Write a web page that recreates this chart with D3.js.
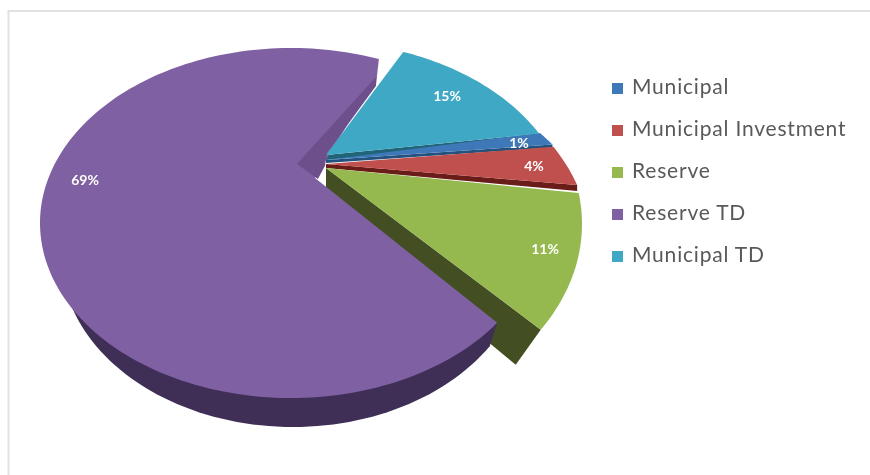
<!DOCTYPE html>
<html><head><meta charset="utf-8">
<script src="https://cdn.jsdelivr.net/npm/d3@7/dist/d3.min.js"></script>
<style>html,body{margin:0;padding:0;background:#fff}svg{display:block;filter:blur(.7px)}</style>
</head><body><svg id="c" width="870" height="475"></svg>
<script>
const categories = ["Municipal","Municipal Investment","Reserve","Reserve TD","Municipal TD"];
const shares = [1,4,11,69,15];
const faceColors = ["#3f78b8","#c0504d","#96b94f","#7f60a2","#3fa8c4"];
const wallColors = ["#24527f","#6a1c18","#434f22","#3f2f56","#1f6478"];

// one frame per slice: exploded offset and the perspective ellipse its rim lies on
const frames = [
 {cx:215,cy:312,rx:414,ry:289,rot:-17.4,persp:1,ax:326,ay:160,dx:0,dy:3,adx:0,ady:3},
 {cx:306,cy:244,rx:284,ry:198,rot:-10,persp:1,ax:326,ay:164,dx:0,dy:6,adx:0,ady:4},
 {cx:285,cy:224,rx:297,ry:208,rot:0,persp:1,ax:326,ay:168,dx:-25,dy:35,adx:0,ady:40},
 {cx:291,cy:223,rx:251,ry:175,rot:-4,persp:.47,ax:315,ay:178,dx:-3,dy:27,adx:-18,ady:-15},
 {cx:318,cy:216.5,rx:251,ry:175,rot:-5,persp:1,ax:326,ay:155,dx:1,dy:4,adx:0,ady:5}
];
const labelPos = [[519,144],[534,167],[545,250],[85,181],[447,97]];
const legendY = d3.scalePoint().domain(categories).range([88,256]);

const svg = d3.select("#c");
svg.append("path").attr("d","M870,11H8.5V475").attr("fill","none").attr("stroke","#e2e2e2").attr("stroke-width",2);

const startDeg = 78.4;
const arcs = d3.pie().sort(null).value(d=>d)
  .startAngle(startDeg*Math.PI/180).endAngle((startDeg+360)*Math.PI/180)(shares);

const Z1 = [0.0508,0.131];
function rim(theta,f){
  const a = Math.PI/2 - theta - f.rot*Math.PI/180;
  const zr=Math.cos(a), zi=Math.sin(a), pr=Z1[0]*f.persp, pi=Z1[1]*f.persp;
  const nr=zr+pr, ni=zi+pi;
  const dr=1+pr*zr+pi*zi, di=pr*zi-pi*zr;
  const m=dr*dr+di*di;
  const wr=(nr*dr+ni*di)/m, wi=(ni*dr-nr*di)/m;
  return [f.cx+f.rx*wr, f.cy-f.ry*wi];
}
function rimPts(a,f){
  const n=Math.max(4,Math.ceil((a.endAngle-a.startAngle)/(Math.PI/120)));
  return d3.range(n+1).map(i=>rim(a.startAngle+(a.endAngle-a.startAngle)*i/n,f));
}
const line = d3.line();
const closed = pts => line(pts)+"Z";

// side walls of the exploded slices
[4,0,1,2].forEach(i=>{
  const f=frames[i], a=arcs[i], end=rim(a.endAngle,f);
  const apex=[f.ax,f.ay];
  const pts=[apex,end,[end[0]+f.dx,end[1]+f.dy],[f.ax+f.adx,f.ay+f.ady]];
  svg.append("path").attr("d",closed(pts)).attr("fill",wallColors[i]);
});

// outer wall of the large slice
const base={cx:293,cy:255,rx:232,ry:172};
const pf=frames[3], pa=arcs[3];
const wallPts=[rim(pa.startAngle,pf)].concat(d3.range(122,272,2).map(d=>{
  const t=d*Math.PI/180;
  return [base.cx+base.rx*Math.sin(t), base.cy-base.ry*Math.cos(t)];
}));
svg.append("path").attr("d",closed(wallPts)).attr("fill",wallColors[3]);

// faces
const cutEnd=rim(pa.endAngle,pf);
[2,3,1,0,4].forEach(i=>{
  const f=frames[i];
  let pts=[[f.ax,f.ay]].concat(rimPts(arcs[i],f));
  if(i===3) pts=pts.concat([[cutEnd[0]-2,cutEnd[1]+17]]);
  svg.append("path").attr("d",closed(pts)).attr("fill",faceColors[i]);
});
// cut wall seen inside the large slice: a band along the slice edge, next to the teal slice
{
  const cutOffsets=[[0,0],[pf.dx,pf.dy],[-52,94],[-54,107],[-61,120],[-82,105],[-2,17]];
  const pts=cutOffsets.map(o=>[cutEnd[0]+o[0],cutEnd[1]+o[1]]);
  svg.append("path").attr("d",closed(pts)).attr("fill","#6c4f8b");
}

// labels
const fmt=d3.format(".0%");
svg.append("g").selectAll("text").data(shares).join("text")
  .attr("x",(d,i)=>labelPos[i][0]).attr("y",(d,i)=>labelPos[i][1])
  .attr("text-anchor","middle").attr("dominant-baseline","middle")
  .attr("font-family","Lato, 'Open Sans', sans-serif").attr("font-weight",700).attr("font-size",14)
  .attr("fill","#fff").text(d=>fmt(d/100));

// legend
const lg=svg.append("g").selectAll("g").data(categories).join("g")
  .attr("transform",d=>`translate(612,${legendY(d)})`);
lg.append("rect").attr("x",0).attr("y",-5).attr("width",11).attr("height",11)
  .attr("fill",(d,i)=>faceColors[i]);
lg.append("text").attr("x",20).attr("y",1).attr("dominant-baseline","middle")
  .attr("font-family","Lato, sans-serif").attr("font-size",21).attr("letter-spacing",.8)
  .attr("fill","#595959").text(d=>d);
</script></body></html>
